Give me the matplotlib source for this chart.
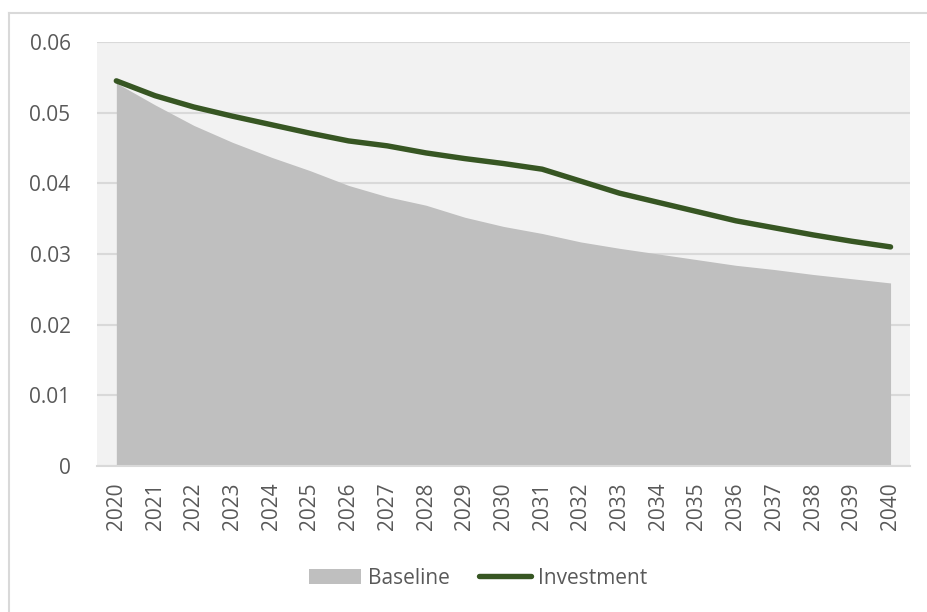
import matplotlib.pyplot as plt
from matplotlib.lines import Line2D

plt.rcParams['font.family'] = ['Open Sans', 'DejaVu Sans']

anos = [str(a) for a in range(2020, 2041)]
baseline = [0.0542, 0.0511, 0.0482, 0.0458, 0.0437, 0.0418, 0.0397, 0.0381, 0.0369,
            0.0352, 0.0339, 0.0329, 0.0317, 0.0308, 0.0300, 0.0292, 0.0284, 0.0278,
            0.0271, 0.0265, 0.0259]
investment = [0.0545, 0.0524, 0.0508, 0.0495, 0.0483, 0.0471, 0.0460, 0.0453, 0.0443,
              0.0435, 0.0428, 0.0420, 0.0403, 0.0386, 0.0373, 0.0360, 0.0347, 0.0337,
              0.0327, 0.0318, 0.0310]
y_ticks = [0, 0.01, 0.02, 0.03, 0.04, 0.05, 0.06]
y_labels = ['0', '0.01', '0.02', '0.03', '0.04', '0.05', '0.06']

cinza_texto = '#595959'
cinza_grade = '#D9D9D9'

fig = plt.figure(figsize=(9.28, 6.12), dpi=100)
ax = fig.add_axes([0.1045, 0.2386, 0.876, 0.6928])

# borda do grafico (so topo e esquerda aparecem)
bx = 9.5 / 928
by = 1 - 12.5 / 612
fig.add_artist(Line2D([bx, 1], [by, by], transform=fig.transFigure,
                      color=cinza_grade, linewidth=1.5))
fig.add_artist(Line2D([bx, bx], [0, by], transform=fig.transFigure,
                      color=cinza_grade, linewidth=1.5))

x = list(range(len(anos)))
ax.set_facecolor('#F2F2F2')
ax.fill_between(x, 0, baseline, color='#BFBFBF', linewidth=0, label='Baseline', zorder=2)
ax.plot(x, investment, color='#375623', linewidth=3.9, solid_capstyle='round',
        label='Investment', zorder=3)

ax.set_xlim(-0.5, len(anos) - 0.5)
ax.set_ylim(0, 0.06)
ax.set_yticks(y_ticks)
ax.set_yticklabels(y_labels)
ax.set_xticks(x)
ax.set_xticklabels(anos, rotation=90)

ax.grid(axis='y', color=cinza_grade, linewidth=1.5, zorder=1)
ax.set_axisbelow(True)
for s in ['top', 'right', 'left']:
    ax.spines[s].set_visible(False)
ax.spines['bottom'].set_color(cinza_grade)
ax.spines['bottom'].set_linewidth(1.5)
ax.spines['bottom'].set_zorder(4)

ax.tick_params(axis='both', length=0, labelsize=15, colors=cinza_texto)
ax.tick_params(axis='y', pad=19)
ax.tick_params(axis='x', pad=12)

leg = fig.legend(loc='center', bbox_to_anchor=(478 / 928, 1 - 578 / 612), ncol=2,
                 frameon=False, fontsize=15, handlelength=2.5, handletextpad=0.33,
                 columnspacing=1.4, borderaxespad=0)
for t in leg.get_texts():
    t.set_color(cinza_texto)

plt.savefig('out.png', dpi=100)
